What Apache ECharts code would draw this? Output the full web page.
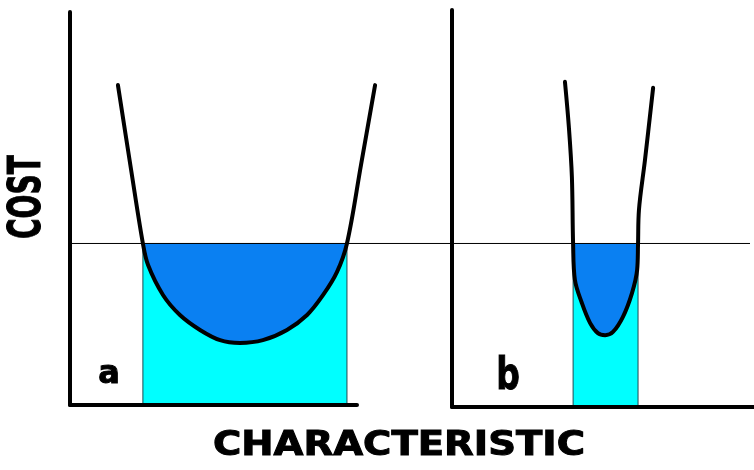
<!DOCTYPE html>
<html>
<head>
<meta charset="utf-8">
<script src="https://cdn.jsdelivr.net/npm/echarts@6/dist/echarts.min.js"></script>
<style>
  html, body { margin: 0; padding: 0; background: #fff; }
  #chart { width: 754px; height: 470px; }
</style>
</head>
<body>
<div id="chart"></div>
<script>
// cost level of the horizontal limit line (0-100 scale, same in both panels)
var thresholdCost = 41.1

// panel a: wide, flat cost curve  [characteristic, cost]
var curveA = [
  [16.7, 81.4], [21.3, 59.8], [25.4, 41.1], [27.2, 35.6], [32.4, 28.0],
  [38.3, 22.9], [45.3, 19.1], [52.3, 16.5], [59.2, 15.8], [67.2, 16.5],
  [75.6, 19.1], [82.6, 22.9], [88.2, 28.0], [93.0, 33.8], [96.5, 41.1],
  [101.4, 61.1], [106.3, 81.4]
]
// panel b: narrow, steep cost curve
var curveB = [
  [37.4, 81.9], [38.7, 70.5], [39.7, 57.9], [40.1, 41.1], [40.7, 32.0],
  [43.0, 26.2], [45.7, 21.2], [48.3, 18.6], [50.7, 18.1], [53.3, 18.9],
  [56.6, 22.7], [59.6, 28.7], [61.3, 34.5], [61.6, 41.1], [61.9, 49.6],
  [63.9, 62.2], [66.6, 80.4]
]
// where each curve crosses the limit line
var spanA = [25.4, 96.5]
var spanB = [40.1, 61.6]

var panelLabels = ['a', 'b']
var xTitle = 'CHARACTERISTIC'
var yTitle = 'COST'

var chart = echarts.init(document.getElementById('chart'))

function belowLimit (pts) {
  return pts.filter(function (p) { return p[1] <= thresholdCost + 0.01 })
}

function bandSeries (idx, span) {
  return {
    type: 'custom',
    xAxisIndex: idx,
    yAxisIndex: idx,
    z: 1,
    silent: true,
    data: [[span[0], span[1], thresholdCost]],
    renderItem: function (params, api) {
      var tl = api.coord([api.value(0), api.value(2)])
      var br = api.coord([api.value(1), 0])
      return {
        type: 'rect',
        shape: { x: tl[0], y: tl[1], width: br[0] - tl[0], height: br[1] - tl[1] },
        style: { fill: '#00ffff', stroke: '#1f4a52', lineWidth: 1 }
      }
    }
  }
}

function bowlSeries (idx, pts) {
  return {
    type: 'line',
    xAxisIndex: idx,
    yAxisIndex: idx,
    z: 2,
    silent: true,
    symbol: 'none',
    smooth: 0.35,
    lineStyle: { width: 0 },
    areaStyle: { color: '#0a80f2', opacity: 1, origin: thresholdCost },
    data: belowLimit(pts)
  }
}

function curveSeries (idx, pts) {
  return {
    type: 'line',
    xAxisIndex: idx,
    yAxisIndex: idx,
    z: 4,
    silent: true,
    symbol: 'none',
    smooth: 0.35,
    lineStyle: { color: '#000', width: 4, join: 'round', cap: 'round' },
    data: pts
  }
}

var axisLine = { show: true, onZero: false, lineStyle: { color: '#000', width: 4 } }
var bareAxis = {
  type: 'value', min: 0, max: 100, z: 6,
  axisLine: axisLine, axisTick: { show: false },
  axisLabel: { show: false }, splitLine: { show: false }
}
function hiddenAxis (idx, max) {
  return { gridIndex: idx, type: 'value', min: 0, max: max, show: false, splitLine: { show: false } }
}

// heavy black lettering, a thin outline makes it a bit bolder
function label (text, size) {
  return { text: text, font: 'bold ' + size + 'px "DejaVu Sans"', fill: '#000', stroke: '#000', lineWidth: 1, align: 'center', verticalAlign: 'middle' }
}

chart.setOption({
  animation: false,
  backgroundColor: '#fff',
  grid: [
    // panel a axes
    { left: 70, top: 12, width: 287, height: 393 },
    // panel b
    { left: 452, top: 10, width: 302, height: 397 },
    // limit line across both panels
    { left: 70, top: 12, width: 680, height: 393 },
    // panel a drawing area, same scale as its axes but wider so the arm is not cut
    { left: 70, top: 12, width: 344.4, height: 393 }
  ],
  xAxis: [
    Object.assign({ gridIndex: 0 }, bareAxis),
    Object.assign({ gridIndex: 1 }, bareAxis),
    hiddenAxis(2, 100),
    hiddenAxis(3, 120)
  ],
  yAxis: [
    Object.assign({ gridIndex: 0 }, bareAxis),
    Object.assign({ gridIndex: 1 }, bareAxis),
    hiddenAxis(2, 100),
    hiddenAxis(3, 100)
  ],
  series: [
    bandSeries(3, spanA),
    bandSeries(1, spanB),
    bowlSeries(3, curveA),
    bowlSeries(1, curveB),
    {
      type: 'line',
      xAxisIndex: 2,
      yAxisIndex: 2,
      z: 3,
      silent: true,
      symbol: 'none',
      lineStyle: { color: '#000', width: 1 },
      data: [[0, thresholdCost], [100, thresholdCost]]
    },
    curveSeries(3, curveA),
    curveSeries(1, curveB)
  ],
  graphic: [
    { type: 'text', x: 29, y: 197, rotation: Math.PI / 2, scaleX: 0.64, style: label(yTitle, 44) },
    { type: 'text', x: 399, y: 446, scaleX: 1.17, style: label(xTitle, 33) },
    { type: 'text', x: 109, y: 375, style: label(panelLabels[0], 32) },
    { type: 'text', x: 508, y: 378, scaleX: 0.75, style: label(panelLabels[1], 44) }
  ]
})
</script>
</body>
</html>
